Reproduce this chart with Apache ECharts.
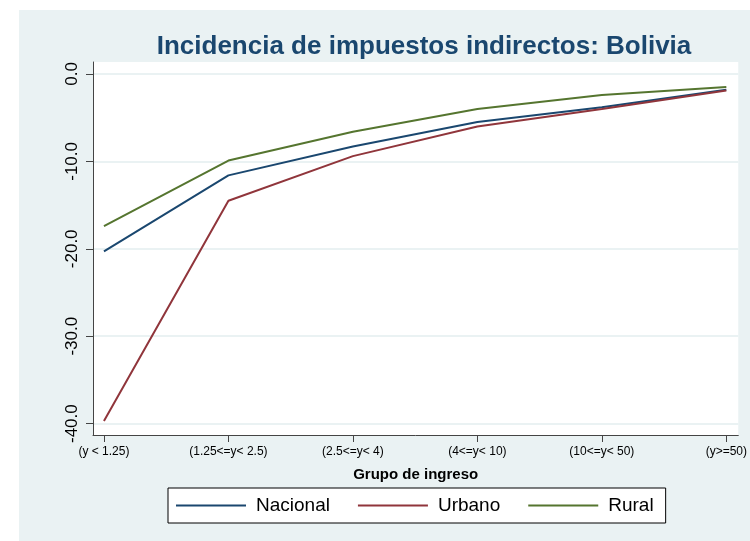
<!DOCTYPE html>
<html>
<head>
<meta charset="utf-8">
<script src="https://cdn.jsdelivr.net/npm/echarts@6/dist/echarts.min.js"></script>
<style>
  html, body { margin: 0; padding: 0; background: #fff; }
  #chart { width: 750px; height: 541px; }
</style>
</head>
<body>
<div id="chart"></div>
<script>
// grupos de ingreso
const categories = ['(y < 1.25)', '(1.25<=y< 2.5)', '(2.5<=y< 4)', '(4<=y< 10)', '(10<=y< 50)', '(y>=50)'];
// incidencia (%) por area
const nacional = [-20.3, -11.6, -8.3, -5.5, -3.8, -1.8];
const urbano = [-39.7, -14.5, -9.4, -6.0, -4.0, -1.9];
const rural = [-17.4, -9.9, -6.6, -4.0, -2.4, -1.5];
const yTicks = [0, -10, -20, -30, -40];

const narrow = "'Liberation Sans Narrow', 'Arial Narrow', 'Liberation Sans', sans-serif";
const xPos = categories.map((c, i) => i);

function pts(arr) {
  return arr.map((v, i) => [i, v]);
}

const chart = echarts.init(document.getElementById('chart'));
chart.setOption({
  backgroundColor: '#ffffff',
  animation: false,
  graphic: [{
    type: 'rect',
    z: -10,
    shape: { x: 19, y: 10, width: 731, height: 531 },
    style: { fill: '#eaf2f3' }
  }],
  title: {
    text: 'Incidencia de impuestos indirectos: Bolivia',
    left: 419,
    top: 29,
    textAlign: 'center',
    textStyle: { fontFamily: narrow, fontSize: 26, fontWeight: 'bold', color: '#1a476f' }
  },
  grid: {
    left: 93, right: 10, top: 62, bottom: 106,
    show: true, backgroundColor: '#ffffff', borderWidth: 0
  },
  xAxis: {
    type: 'value',
    min: -0.088, max: 5.096,
    name: 'Grupo de ingreso',
    nameLocation: 'middle',
    nameGap: 32,
    nameTextStyle: { fontFamily: narrow, fontSize: 15, fontWeight: 'bold', color: '#000' },
    axisLine: { show: true, onZero: false, lineStyle: { color: '#444', width: 1 } },
    axisTick: { show: true, length: 7, customValues: xPos, lineStyle: { color: '#444' } },
    axisLabel: {
      customValues: xPos,
      formatter: v => categories[Math.round(v)],
      fontFamily: narrow, fontSize: 12, color: '#000', margin: 11
    },
    splitLine: { show: false }
  },
  yAxis: {
    type: 'value',
    min: -41.3, max: 1.37,
    axisLine: { show: true, onZero: false, lineStyle: { color: '#444', width: 1 } },
    axisTick: { show: true, length: 7, customValues: yTicks, lineStyle: { color: '#444' } },
    axisLabel: {
      customValues: yTicks,
      rotate: 90,
      formatter: v => v.toFixed(1),
      fontFamily: 'Liberation Sans, Arial, sans-serif', fontSize: 17, color: '#000', margin: 12
    },
    splitLine: { show: true, lineStyle: { color: '#eaf2f3', width: 2 } }
  },
  legend: {
    left: 168,
    top: 488,
    width: 495,
    padding: [8, 12, 8, 8],
    backgroundColor: '#ffffff',
    borderColor: '#000',
    borderWidth: 1,
    icon: 'rect',
    itemWidth: 70,
    itemHeight: 2,
    itemGap: 28,
    textStyle: { fontFamily: narrow, fontSize: 19, color: '#000', padding: [0, 0, 0, 5] },
    data: ['Nacional', 'Urbano', 'Rural']
  },
  series: [
    { name: 'Nacional', type: 'line', symbol: 'none', data: pts(nacional),
      lineStyle: { color: '#1a476f', width: 2 }, itemStyle: { color: '#1a476f' } },
    { name: 'Urbano', type: 'line', symbol: 'none', data: pts(urbano),
      lineStyle: { color: '#90353b', width: 2 }, itemStyle: { color: '#90353b' } },
    { name: 'Rural', type: 'line', symbol: 'none', data: pts(rural),
      lineStyle: { color: '#55752f', width: 2 }, itemStyle: { color: '#55752f' } }
  ]
});
</script>
</body>
</html>
